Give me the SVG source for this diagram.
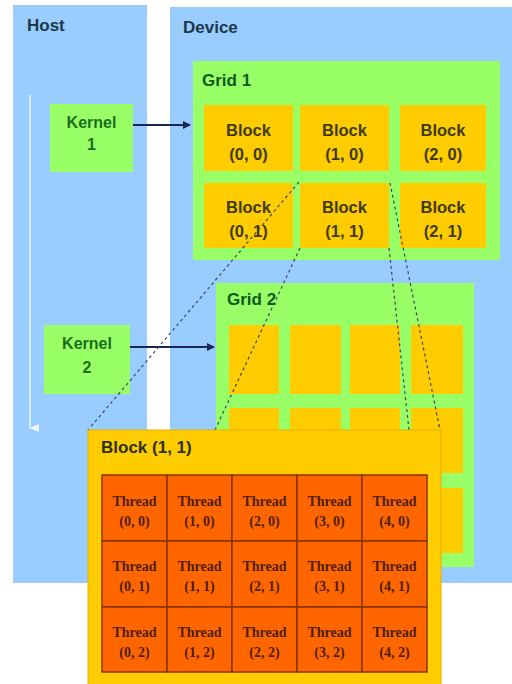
<svg xmlns="http://www.w3.org/2000/svg" width="512" height="684" viewBox="0 0 512 684">
<style>
.panel{fill:#99ccff}
.grid{fill:#99ff66}
.blk{fill:#ffcc00}
.thr{fill:#ff6600;stroke:#8a3300;stroke-width:1.5}
.lbl{font-family:"Liberation Sans",Arial,sans-serif;font-weight:bold}
.pl{font-size:17px;fill:#1c3848}
.gl{font-size:17px;fill:#0d5a1c}
.kl{font-size:16px;fill:#1a6e1a;text-anchor:middle}
.bl{font-size:16.5px;fill:#3e3a12;text-anchor:middle}
.tl{font-family:"Liberation Serif","Times New Roman",serif;font-weight:bold;font-size:14px;fill:#4e1e00;text-anchor:middle}
.dash{stroke:#3a4a6a;stroke-width:1.2;stroke-dasharray:3 3;fill:none}
.arr{stroke:#1a2755;stroke-width:2;fill:none}
</style>
<defs>
<marker id="ah" markerWidth="8" markerHeight="8" refX="7" refY="4" orient="auto" markerUnits="userSpaceOnUse">
<path d="M0,0 L8,4 L0,8 Z" fill="#1a2755"/>
</marker>
<marker id="wh" markerWidth="8" markerHeight="10" refX="4" refY="9" orient="auto" markerUnits="userSpaceOnUse">
<path d="M0,0 L8,0 L4,10 Z" fill="#eef5ff"/>
</marker>
</defs>
<rect width="512" height="684" fill="#ffffff"/>
<g id="host">
<rect class="panel" x="13" y="5" width="134" height="578"/>
<text class="lbl pl" x="27" y="31">Host</text>
<line x1="30" y1="95" x2="30" y2="428" stroke="#eef5ff" stroke-width="1.5" marker-end="url(#wh)"/>
</g>
<g id="device">
<rect class="panel" x="170" y="7" width="342" height="576"/>
<text class="lbl pl" x="183" y="33">Device</text>
</g>
<g id="kernel1">
<rect class="grid" x="50" y="104" width="83" height="68"/>
<text class="lbl kl" x="91.5" y="128">Kernel</text>
<text class="lbl kl" x="91.5" y="150">1</text>
</g>
<g id="kernel2">
<rect class="grid" x="44" y="325" width="86" height="69"/>
<text class="lbl kl" x="87" y="349">Kernel</text>
<text class="lbl kl" x="87" y="373">2</text>
</g>
<g id="grid1">
<rect class="grid" x="193" y="61" width="307" height="199"/>
<text class="lbl gl" x="202" y="86">Grid 1</text>
<rect class="blk" x="204" y="105" width="89" height="66"/>
<text class="lbl bl" x="248.5" y="136">Block</text><text class="lbl bl" x="248.5" y="160">(0, 0)</text>
<rect class="blk" x="300" y="105" width="89" height="66"/>
<text class="lbl bl" x="344.5" y="136">Block</text><text class="lbl bl" x="344.5" y="160">(1, 0)</text>
<rect class="blk" x="400" y="105" width="86" height="66"/>
<text class="lbl bl" x="443" y="136">Block</text><text class="lbl bl" x="443" y="160">(2, 0)</text>
<rect class="blk" x="204" y="183" width="89" height="65"/>
<text class="lbl bl" x="248.5" y="213">Block</text><text class="lbl bl" x="248.5" y="237">(0, 1)</text>
<rect class="blk" x="300" y="183" width="89" height="65"/>
<text class="lbl bl" x="344.5" y="213">Block</text><text class="lbl bl" x="344.5" y="237">(1, 1)</text>
<rect class="blk" x="400" y="183" width="86" height="65"/>
<text class="lbl bl" x="443" y="213">Block</text><text class="lbl bl" x="443" y="237">(2, 1)</text>
</g>
<g id="grid2">
<rect class="grid" x="216" y="283" width="258" height="284"/>
<text class="lbl gl" x="227" y="305">Grid 2</text>
<rect class="blk" x="229" y="325" width="50" height="69"/>
<rect class="blk" x="290" y="325" width="51" height="69"/>
<rect class="blk" x="350" y="325" width="50" height="69"/>
<rect class="blk" x="411" y="325" width="52" height="69"/>
<rect class="blk" x="229" y="408" width="50" height="65"/>
<rect class="blk" x="290" y="408" width="51" height="65"/>
<rect class="blk" x="350" y="408" width="50" height="65"/>
<rect class="blk" x="411" y="408" width="52" height="65"/>
<rect class="blk" x="229" y="488" width="50" height="65"/>
<rect class="blk" x="290" y="488" width="51" height="65"/>
<rect class="blk" x="350" y="488" width="50" height="65"/>
<rect class="blk" x="411" y="488" width="52" height="65"/>
</g>
<g id="connectors">
<line class="arr" x1="133" y1="125" x2="190" y2="125" marker-end="url(#ah)"/>
<line class="arr" x1="130" y1="347" x2="214" y2="347" marker-end="url(#ah)"/>
<line class="dash" x1="299" y1="182" x2="88" y2="430"/>
<line class="dash" x1="300" y1="248" x2="215" y2="430"/>
<line class="dash" x1="389" y1="248" x2="409" y2="430"/>
<line class="dash" x1="390" y1="183" x2="440" y2="430"/>
</g>
<g id="block11">
<rect class="blk" x="88" y="430" width="353" height="260" stroke="#e6b000" stroke-width="1"/>
<text class="lbl" x="101" y="453" font-size="17" fill="#2a3010">Block (1, 1)</text>
</g>
<g id="threads">
<rect class="thr" x="102" y="475" width="65" height="66"/>
<rect class="thr" x="167" y="475" width="65" height="66"/>
<rect class="thr" x="232" y="475" width="65" height="66"/>
<rect class="thr" x="297" y="475" width="65" height="66"/>
<rect class="thr" x="362" y="475" width="65" height="66"/>
<rect class="thr" x="102" y="541" width="65" height="66"/>
<rect class="thr" x="167" y="541" width="65" height="66"/>
<rect class="thr" x="232" y="541" width="65" height="66"/>
<rect class="thr" x="297" y="541" width="65" height="66"/>
<rect class="thr" x="362" y="541" width="65" height="66"/>
<rect class="thr" x="102" y="607" width="65" height="65"/>
<rect class="thr" x="167" y="607" width="65" height="65"/>
<rect class="thr" x="232" y="607" width="65" height="65"/>
<rect class="thr" x="297" y="607" width="65" height="65"/>
<rect class="thr" x="362" y="607" width="65" height="65"/>
<text class="tl" x="134.5" y="506">Thread</text><text class="tl" x="134.5" y="526">(0, 0)</text>
<text class="tl" x="199.5" y="506">Thread</text><text class="tl" x="199.5" y="526">(1, 0)</text>
<text class="tl" x="264.5" y="506">Thread</text><text class="tl" x="264.5" y="526">(2, 0)</text>
<text class="tl" x="329.5" y="506">Thread</text><text class="tl" x="329.5" y="526">(3, 0)</text>
<text class="tl" x="394.5" y="506">Thread</text><text class="tl" x="394.5" y="526">(4, 0)</text>
<text class="tl" x="134.5" y="571">Thread</text><text class="tl" x="134.5" y="591">(0, 1)</text>
<text class="tl" x="199.5" y="571">Thread</text><text class="tl" x="199.5" y="591">(1, 1)</text>
<text class="tl" x="264.5" y="571">Thread</text><text class="tl" x="264.5" y="591">(2, 1)</text>
<text class="tl" x="329.5" y="571">Thread</text><text class="tl" x="329.5" y="591">(3, 1)</text>
<text class="tl" x="394.5" y="571">Thread</text><text class="tl" x="394.5" y="591">(4, 1)</text>
<text class="tl" x="134.5" y="637">Thread</text><text class="tl" x="134.5" y="657">(0, 2)</text>
<text class="tl" x="199.5" y="637">Thread</text><text class="tl" x="199.5" y="657">(1, 2)</text>
<text class="tl" x="264.5" y="637">Thread</text><text class="tl" x="264.5" y="657">(2, 2)</text>
<text class="tl" x="329.5" y="637">Thread</text><text class="tl" x="329.5" y="657">(3, 2)</text>
<text class="tl" x="394.5" y="637">Thread</text><text class="tl" x="394.5" y="657">(4, 2)</text>
</g>
</svg>
